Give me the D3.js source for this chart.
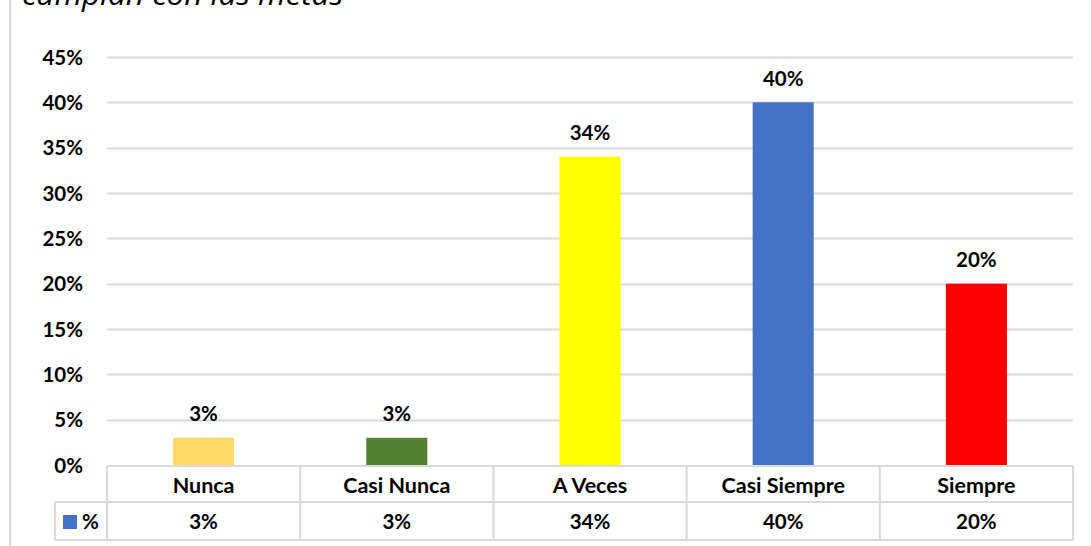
<!DOCTYPE html>
<html>
<head>
<meta charset="utf-8">
<script src="https://cdn.jsdelivr.net/npm/d3@7"></script>
<style>
  html, body { margin: 0; padding: 0; background: #fff; }
  svg { display: block; }
  text { font-family: Lato, "Open Sans", sans-serif; fill: #000; }
</style>
</head>
<body>
<script>
// Response categories and their shares
const categories = ["Nunca", "Casi Nunca", "A Veces", "Casi Siempre", "Siempre"];
const values = [0.03, 0.03, 0.34, 0.40, 0.20];
const barColors = ["#FFD966", "#548235", "#FFFF00", "#4472C4", "#FF0000"];
const yTicks = [0, 0.05, 0.10, 0.15, 0.20, 0.25, 0.30, 0.35, 0.40, 0.45];
const seriesName = "%";
const titleText = "cumplan con las metas";

const W = 1091, H = 546;
const svg = d3.select("body").append("svg").attr("width", W).attr("height", H);

const grid = "#d9d9d9";
const fs = "20.5px";
const fmt = d3.format(".0%");

// outer frame edge on the left
svg.append("line").attr("x1", 10).attr("x2", 10).attr("y1", 0).attr("y2", H)
  .attr("stroke", grid).attr("stroke-width", 2);

// title (runs off the top edge)
svg.append("text").attr("x", 22).attr("y", 5)
  .style("font-family", "'Open Sans', sans-serif")
  .style("font-style", "italic").style("font-size", "29px")
  .attr("textLength", 321).attr("lengthAdjust", "spacingAndGlyphs")
  .text(titleText);

const left = 107, right = 1073;
const x = d3.scaleBand().domain(categories).range([left, right]).paddingInner(0.684).paddingOuter(0.342);
const xCol = d3.scaleBand().domain(categories).range([left, right]);
const y = d3.scaleLinear().domain([0, 0.45]).range([465, 57]);

// horizontal gridlines
svg.append("g").selectAll("line").data(yTicks.slice(1)).join("line")
  .attr("x1", left).attr("x2", right)
  .attr("y1", d => Math.round(y(d)) + 0.5).attr("y2", d => Math.round(y(d)) + 0.5)
  .attr("stroke", grid).attr("stroke-width", 2);

// y axis labels
const yAxis = d3.axisLeft(y).tickValues(yTicks).tickFormat(fmt).tickSize(0).tickPadding(0);
const ya = svg.append("g").attr("transform", "translate(83,0)").call(yAxis);
ya.select(".domain").remove();
ya.selectAll("text").style("font-family", "Lato, sans-serif")
  .style("font-weight", "700").style("font-size", fs).attr("dy", "0.35em");

// bars
svg.append("g").selectAll("rect").data(values).join("rect")
  .attr("x", (d, i) => x(categories[i]))
  .attr("width", x.bandwidth())
  .attr("y", d => y(d))
  .attr("height", d => y(0) - y(d))
  .attr("fill", (d, i) => barColors[i]);

// value labels above bars
svg.append("g").selectAll("text").data(values).join("text")
  .attr("x", (d, i) => xCol(categories[i]) + xCol.bandwidth() / 2)
  .attr("y", d => y(d) - 24)
  .attr("dy", "0.35em")
  .attr("text-anchor", "middle")
  .style("font-weight", "700").style("font-size", fs)
  .text(d => fmt(d));

// data table below the plot
const rowTop = 466, rowMid = 502, rowBot = 540, keyLeft = 55;
const tbl = svg.append("g").attr("stroke", grid).attr("stroke-width", 2).attr("fill", "none");
tbl.append("line").attr("x1", left).attr("x2", right).attr("y1", rowTop).attr("y2", rowTop);
tbl.append("line").attr("x1", keyLeft).attr("x2", right).attr("y1", rowMid).attr("y2", rowMid);
tbl.append("line").attr("x1", keyLeft).attr("x2", right).attr("y1", rowBot).attr("y2", rowBot);
tbl.append("line").attr("x1", keyLeft).attr("x2", keyLeft).attr("y1", rowMid).attr("y2", rowBot);
const seps = categories.map(c => xCol(c)).concat([right]);
tbl.selectAll(".sep").data(seps).join("line").attr("class", "sep")
  .attr("x1", d => d).attr("x2", d => d).attr("y1", rowTop).attr("y2", rowBot);

svg.append("g").selectAll("text").data(categories).join("text")
  .attr("x", c => xCol(c) + xCol.bandwidth() / 2)
  .attr("y", (rowTop + rowMid) / 2 + 1).attr("dy", "0.35em")
  .attr("text-anchor", "middle")
  .style("font-weight", "700").style("font-size", "21.5px")
  .text(c => c);

svg.append("g").selectAll("text").data(values).join("text")
  .attr("x", (d, i) => xCol(categories[i]) + xCol.bandwidth() / 2)
  .attr("y", (rowMid + rowBot) / 2 + 1).attr("dy", "0.35em")
  .attr("text-anchor", "middle")
  .style("font-weight", "700").style("font-size", fs)
  .text(d => fmt(d));

// legend key in the table row
svg.append("rect").attr("x", 63).attr("y", 515).attr("width", 14).attr("height", 14).attr("fill", barColors[3]);
svg.append("text").attr("x", 82).attr("y", 522).attr("dy", "0.35em")
  .style("font-weight", "700").style("font-size", fs).text(seriesName);
</script>
</body>
</html>
